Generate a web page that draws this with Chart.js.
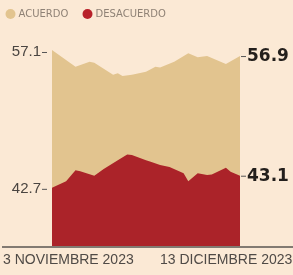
<!DOCTYPE html>
<html>
<head>
<meta charset="utf-8">
<script src="https://cdn.jsdelivr.net/npm/chart.js@4"></script>
<style>
  html, body { margin: 0; padding: 0; background: #fbe9d5; }
  #wrap { position: relative; width: 293px; height: 275px; }
  canvas { display: block; }
</style>
</head>
<body>
<div id="wrap"><canvas id="c" width="293" height="275"></canvas></div>
<script>
// Series names
const seriesNames = ['ACUERDO', 'DESACUERDO'];
// Days since 3 Nov 2023
const agreeDays = [0, 5, 8, 9, 13, 14, 15, 17, 20, 22, 23, 26, 29, 31, 33, 37, 40];
const agreeValues = [57.1, 56.55, 56.71, 56.68, 56.28, 56.33, 56.24, 56.28, 56.38, 56.55, 56.52, 56.71, 56.99, 56.86, 56.9, 56.64, 56.9];
const disagreeDays = [0, 3, 5, 6, 9, 11, 14, 16, 17, 20, 21, 23, 25, 28, 29, 31, 33, 34, 37, 38, 40];
const disagreeValues = [42.7, 42.92, 43.28, 43.25, 43.1, 43.32, 43.61, 43.8, 43.78, 43.61, 43.56, 43.45, 43.39, 43.18, 42.92, 43.18, 43.12, 43.14, 43.36, 43.23, 43.1];
// Tick labels
const xTickLabels = ['3 NOVIEMBRE 2023', '13 DICIEMBRE 2023'];
const leftLabels = ['57.1', '42.7'];
const rightLabels = ['56.9', '43.1'];

const TAN = '#e2c48f';
const RED = '#ab2329';

const labelsPlugin = {
  id: 'labels',
  afterDraw(chart) {
    const ctx = chart.ctx;
    const xs = chart.scales.x, ya = chart.scales.yA, yd = chart.scales.yD;
    const area = chart.chartArea;
    ctx.save();
    // axis line
    ctx.strokeStyle = '#5a5550';
    ctx.lineWidth = 1.5;
    ctx.beginPath();
    ctx.moveTo(2, area.bottom + 1);
    ctx.lineTo(293, area.bottom + 1);
    ctx.stroke();

    // legend
    const legendItems = [[10.5, TAN, seriesNames[0]], [87.5, '#b8212a', seriesNames[1]]];
    ctx.textBaseline = 'middle';
    ctx.textAlign = 'left';
    ctx.font = '10px "DejaVu Sans"';
    legendItems.forEach(([cx, col, txt]) => {
      ctx.fillStyle = col;
      ctx.beginPath();
      ctx.arc(cx, 14, 5, 0, Math.PI * 2);
      ctx.fill();
      ctx.fillStyle = '#8f8276';
      ctx.fillText(txt, cx + 8, 14.5);
    });

    const x0 = xs.getPixelForValue(agreeDays[0]);
    const x1 = xs.getPixelForValue(agreeDays[agreeDays.length - 1]);
    const lefts = [
      [ya.getPixelForValue(agreeValues[0]) + 2, leftLabels[0]],
      [yd.getPixelForValue(disagreeValues[0]) + 1, leftLabels[1]]
    ];
    const rights = [
      [ya.getPixelForValue(agreeValues[agreeValues.length - 1]), rightLabels[0]],
      [yd.getPixelForValue(disagreeValues[disagreeValues.length - 1]), rightLabels[1]]
    ];
    ctx.strokeStyle = '#555';
    ctx.lineWidth = 1;
    ctx.fillStyle = '#4a4541';
    ctx.font = '15px "Liberation Sans"';
    ctx.textAlign = 'right';
    lefts.forEach(([y, t]) => {
      ctx.beginPath();
      ctx.moveTo(x0 - 10, y + 0.5);
      ctx.lineTo(x0 - 5, y + 0.5);
      ctx.stroke();
      ctx.fillText(t, x0 - 11, y);
    });
    ctx.fillStyle = '#231f1c';
    ctx.font = 'bold 17px "DejaVu Sans"';
    ctx.textAlign = 'left';
    rights.forEach(([y, t]) => {
      ctx.beginPath();
      ctx.moveTo(x1 + 1, y + 0.5);
      ctx.lineTo(x1 + 6, y + 0.5);
      ctx.stroke();
      ctx.fillText(t, x1 + 7, y + 1);
    });

    // x labels
    ctx.fillStyle = '#4f4a46';
    ctx.font = '14px "Liberation Sans"';
    ctx.textBaseline = 'alphabetic';
    ctx.textAlign = 'left';
    ctx.fillText(xTickLabels[0], 3, 264);
    ctx.fillText(xTickLabels[1], 160, 264);
    ctx.restore();
  }
};

new Chart(document.getElementById('c'), {
  type: 'line',
  data: {
    datasets: [
      {
        label: seriesNames[0],
        data: agreeDays.map((d, i) => ({ x: d, y: agreeValues[i] })),
        yAxisID: 'yA',
        backgroundColor: TAN,
        borderWidth: 0,
        pointRadius: 0,
        fill: 'start',
        tension: 0,
        order: 1
      },
      {
        label: seriesNames[1],
        data: disagreeDays.map((d, i) => ({ x: d, y: disagreeValues[i] })),
        yAxisID: 'yD',
        backgroundColor: RED,
        borderWidth: 0,
        pointRadius: 0,
        fill: 'start',
        tension: 0,
        order: 0
      }
    ]
  },
  options: {
    responsive: false,
    animation: false,
    layout: { padding: { left: 52, right: 53, top: 40, bottom: 29 } },
    plugins: { legend: { display: false }, tooltip: { enabled: false } },
    scales: {
      x: { type: 'linear', min: 0, max: 40, display: false },
      yA: { type: 'linear', min: 50.63, max: 57.43, display: false },
      yD: { type: 'linear', min: 40.78, max: 47.58, display: false }
    }
  },
  plugins: [labelsPlugin]
});
</script>
</body>
</html>
